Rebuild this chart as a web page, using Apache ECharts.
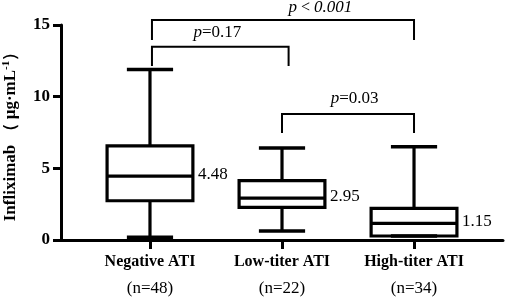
<!DOCTYPE html>
<html>
<head>
<meta charset="utf-8">
<script src="https://cdn.jsdelivr.net/npm/echarts@6/dist/echarts.min.js"></script>
<style>
  html, body { margin: 0; padding: 0; background: #fff; }
  #chart { width: 505px; height: 298px; }
</style>
</head>
<body>
<div id="chart"></div>
<script>
// groups and their box stats: [min, q1, median, q3, max]
const groups = ['Negative ATI', 'Low-titer ATI', 'High-titer ATI'];
const counts = ['(n=48)', '(n=22)', '(n=34)'];
const boxStats = [
  [0.2, 2.74, 4.45, 6.56, 11.9],
  [0.63, 2.28, 2.92, 4.14, 6.42],
  [0.28, 0.28, 1.16, 2.21, 6.5]
];
const medianLabels = ['4.48', '2.95', '1.15'];
const yTicks = [0, 5, 10, 15];

// significance brackets: [x1, x2, yTop, yLeg, textX, textY, text]
const brackets = [
  [0.015, 2.0, 15.35, 13.95, 1.29, 16.2, '{i|p}{s| < }{i|0.001}'],
  [0.015, 1.05, 13.49, 12.14, 0.51, 14.45, '{i|p}{r|=0.17}'],
  [1.0, 2.0, 8.79, 7.47, 1.55, 9.9, '{i|p}{r|=0.03}']
];

const serif = '"Liberation Serif", "Times New Roman", serif';
const black = '#000';

const boxData = boxStats.map((s, i) => [i].concat(s).concat([medianLabels[i]]));

let myChart = echarts.init(document.getElementById('chart'));
myChart.setOption({
  animation: false,
  grid: { left: 61, right: 2, top: 25, bottom: 58, outerBoundsMode: 'none', containLabel: false },
  xAxis: {
    type: 'value',
    min: -0.674,
    max: 2.674,
    splitLine: { show: false },
    axisLine: { show: true, onZero: false, lineStyle: { color: black, width: 3 } },
    axisTick: { show: true, customValues: [0, 1, 2], length: 9, lineStyle: { color: black, width: 3 } },
    axisLabel: {
      customValues: [0, 1, 2],
      margin: 8,
      formatter: v => '{a|' + groups[Math.round(v)] + '}\n{b|' + counts[Math.round(v)] + '}',
      rich: {
        a: { fontFamily: serif, fontWeight: 'bold', fontSize: 16, color: black, lineHeight: 27 },
        b: { fontFamily: serif, fontSize: 17, color: black, lineHeight: 27 }
      }
    }
  },
  yAxis: {
    type: 'value',
    min: 0,
    max: 15,
    interval: 5,
    splitLine: { show: false },
    axisLine: { show: true, onZero: false, lineStyle: { color: black, width: 3 } },
    axisTick: { show: true, length: 8, lineStyle: { color: black, width: 3 } },
    axisLabel: {
      margin: 11,
      fontFamily: serif, fontWeight: 'bold', fontSize: 17, color: black,
      customValues: yTicks
    },
    name: '{b|Infliximab （ μg·mL}{s|-1}{b|）}',
    nameLocation: 'middle',
    nameGap: 41,
    nameRotate: 90,
    nameMoveOverlap: false,
    nameTextStyle: {
      rich: {
        b: { fontFamily: serif, fontWeight: 'bold', fontSize: 17, color: black },
        s: { fontFamily: serif, fontWeight: 'bold', fontSize: 11, color: black, verticalAlign: 'top', padding: [0, 0, 8, 0] }
      }
    }
  },
  series: [
    {
      type: 'custom',
      data: boxData,
      encode: { x: 0, y: [1, 2, 3, 4, 5] },
      renderItem: function (params, api) {
        const x = api.value(0);
        const unit = api.size([1, 0])[0];
        const hw = unit * 0.325, cw = unit * 0.175;
        const p = v => api.coord([x, v]);
        const pMin = p(api.value(1)), pQ1 = p(api.value(2)), pMed = p(api.value(3));
        const pQ3 = p(api.value(4)), pMax = p(api.value(5));
        const cx = pMin[0];
        const ls = { stroke: black, lineWidth: 3.2, fill: null };
        const line = (x1, y1, x2, y2, w) => ({
          type: 'line', shape: { x1, y1, x2, y2 }, style: Object.assign({}, ls, w ? { lineWidth: w } : {})
        });
        return {
          type: 'group',
          children: [
            line(cx, pMax[1], cx, pQ3[1]),
            line(cx, pQ1[1], cx, pMin[1]),
            line(cx - cw, pMax[1], cx + cw, pMax[1], 3.5),
            line(cx - cw, pMin[1], cx + cw, pMin[1], 3.5),
            { type: 'rect', shape: { x: cx - hw, y: pQ3[1], width: 2 * hw, height: pQ1[1] - pQ3[1] }, style: ls },
            line(cx - hw, pMed[1], cx + hw, pMed[1]),
            {
              type: 'text',
              style: {
                text: api.value(6), x: cx + hw + 5, y: pMed[1] - 2,
                align: 'left', verticalAlign: 'middle',
                font: '17px ' + serif, fill: black
              }
            }
          ]
        };
      }
    },
    {
      type: 'custom',
      data: brackets,
      encode: { x: [0, 1], y: [2, 3] },
      clip: false,
      renderItem: function (params, api) {
        const a = api.coord([api.value(0), api.value(2)]);
        const b = api.coord([api.value(1), api.value(3)]);
        const t = api.coord([api.value(4), api.value(5)]);
        const st = { stroke: black, lineWidth: 2, fill: null };
        return {
          type: 'group',
          children: [
            { type: 'polyline', shape: { points: [[a[0], b[1]], [a[0], a[1]], [b[0], a[1]], [b[0], b[1]]] }, style: st },
            {
              type: 'text',
              style: {
                text: api.value(6), x: t[0], y: t[1], align: 'center', verticalAlign: 'middle',
                rich: {
                  i: { fontFamily: serif, fontStyle: 'italic', fontSize: 17, fill: black },
                  r: { fontFamily: serif, fontSize: 17, fill: black },
                  s: { fontFamily: serif, fontSize: 16, fill: black }
                }
              }
            }
          ]
        };
      }
    }
  ]
});
window.onresize = function () {
  myChart.resize();
};
</script>
</body>
</html>
